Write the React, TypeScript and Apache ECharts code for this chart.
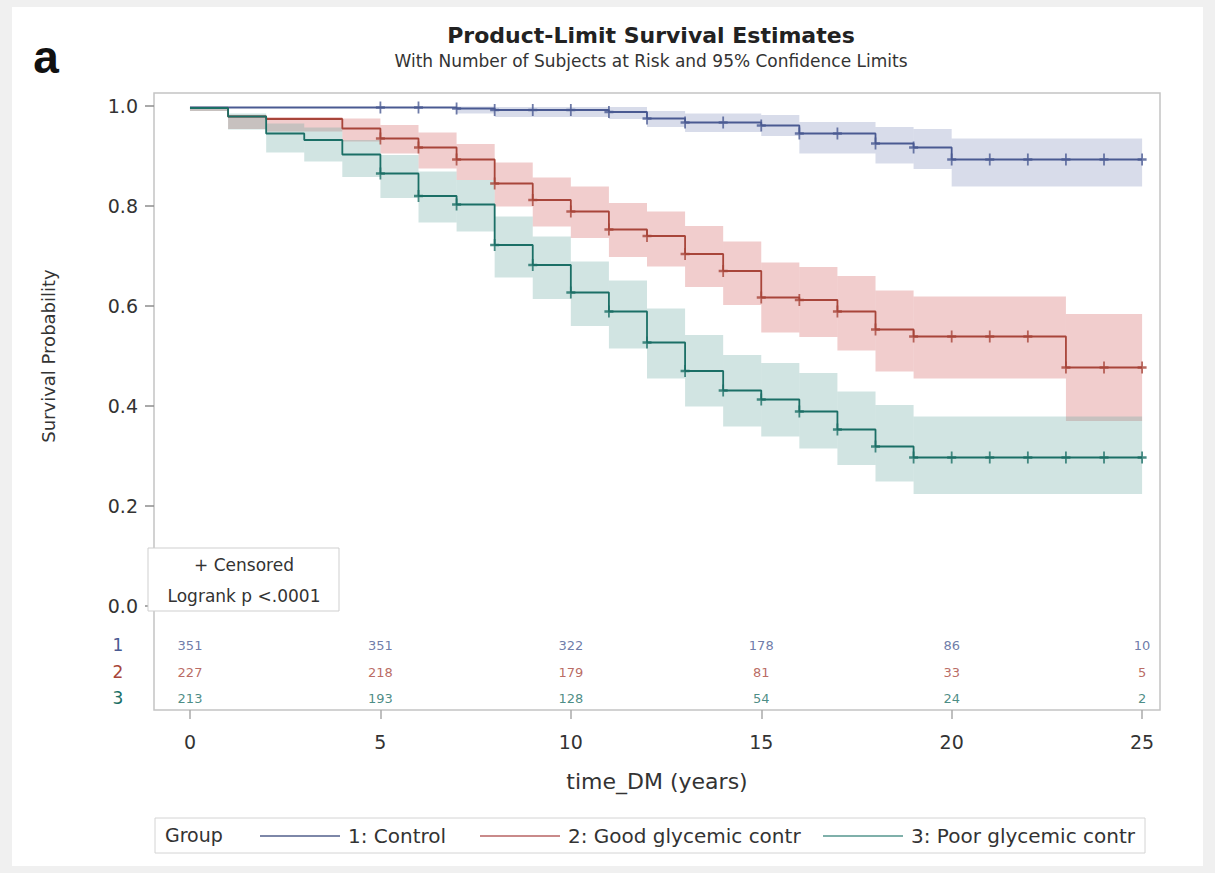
import React, { useEffect, useRef } from "react";
import * as echarts from "echarts";

const FONT = "DejaVu Sans";

const groupNames = ["1: Control", "2: Good glycemic contr", "3: Poor glycemic contr"];
const lineColors = ["#4a5a92", "#a8453a", "#1b6f66"];
const legendColors = ["#7d87a8", "#c98a8a", "#7fb0aa"];
const bandColors = ["rgba(111,126,179,0.27)", "rgba(208,91,91,0.30)", "rgba(102,165,160,0.30)"];

// Group 1: Control
const controlTimes = [0, 7, 8, 11, 12, 13, 15, 16, 18, 19, 20];
const controlSurv = [0.997, 0.995, 0.992, 0.988, 0.975, 0.967, 0.961, 0.945, 0.925, 0.917, 0.893];
const controlLower = [0.997, 0.985, 0.978, 0.974, 0.958, 0.948, 0.94, 0.905, 0.885, 0.874, 0.839];
const controlUpper = [0.997, 0.999, 0.998, 0.998, 0.99, 0.985, 0.982, 0.968, 0.958, 0.954, 0.935];

// Group 2: Good glycemic control
const goodTimes = [0, 1, 2, 4, 5, 6, 7, 8, 9, 10, 11, 12, 13, 14, 15, 16, 17, 18, 19, 23];
const goodSurv = [0.996, 0.979, 0.974, 0.955, 0.935, 0.917, 0.893, 0.845, 0.812, 0.789, 0.753, 0.74, 0.704, 0.67, 0.617, 0.612, 0.589, 0.553, 0.539, 0.477];
const goodLower = [0.99, 0.954, 0.949, 0.929, 0.905, 0.875, 0.852, 0.799, 0.759, 0.736, 0.698, 0.679, 0.638, 0.602, 0.547, 0.538, 0.511, 0.469, 0.455, 0.37];
const goodUpper = [0.999, 0.982, 0.978, 0.975, 0.962, 0.947, 0.924, 0.887, 0.857, 0.839, 0.806, 0.789, 0.76, 0.729, 0.687, 0.678, 0.66, 0.631, 0.619, 0.584];

// Group 3: Poor glycemic control
const poorTimes = [0, 1, 2, 3, 4, 5, 6, 7, 8, 9, 10, 11, 12, 13, 14, 15, 16, 17, 18, 19];
const poorSurv = [0.996, 0.979, 0.945, 0.932, 0.903, 0.865, 0.82, 0.803, 0.722, 0.682, 0.627, 0.589, 0.527, 0.47, 0.431, 0.413, 0.389, 0.353, 0.319, 0.297];
const poorLower = [0.99, 0.953, 0.907, 0.889, 0.858, 0.816, 0.767, 0.749, 0.657, 0.614, 0.56, 0.515, 0.455, 0.399, 0.359, 0.339, 0.315, 0.282, 0.249, 0.224];
const poorUpper = [0.999, 0.985, 0.965, 0.957, 0.932, 0.902, 0.869, 0.852, 0.779, 0.739, 0.689, 0.651, 0.595, 0.542, 0.502, 0.486, 0.466, 0.429, 0.402, 0.379];

const censorTimes = [5, 6, 7, 8, 9, 10, 11, 12, 13, 14, 15, 16, 17, 18, 19, 20, 21, 22, 23, 24, 25];
const endTime = 25;

// Number at risk
const riskTimes = [0, 5, 10, 15, 20, 25];
const riskControl = [351, 351, 322, 178, 86, 10];
const riskGood = [227, 218, 179, 81, 33, 5];
const riskPoor = [213, 193, 128, 54, 24, 2];
const riskRowY = [-0.078, -0.132, -0.184];

const xTicks = [0, 5, 10, 15, 20, 25];
const yTicks = [0, 0.2, 0.4, 0.6, 0.8, 1.0];
const xMin = -0.945;
const xMax = 25.47;

const groups = [
  { times: controlTimes, surv: controlSurv, lower: controlLower, upper: controlUpper, risk: riskControl },
  { times: goodTimes, surv: goodSurv, lower: goodLower, upper: goodUpper, risk: riskGood },
  { times: poorTimes, surv: poorSurv, lower: poorLower, upper: poorUpper, risk: riskPoor },
];

function stepAt(times: number[], vals: number[], t: number) {
  let v = vals[0];
  for (let i = 0; i < times.length; i++) if (times[i] <= t) v = vals[i];
  return v;
}

export default function App() {
  const ref = useRef<HTMLDivElement>(null);
  useEffect(() => {
    if (!ref.current) return;
    const chart = echarts.init(ref.current, null, { renderer: "svg" });
    const series: any[] = [];
    groups.forEach((g, gi) => {
      const bandData = g.times.map((t, i) => [t, i < g.times.length - 1 ? g.times[i + 1] : endTime, g.lower[i], g.upper[i]]);
      series.push({
        type: "custom",
        name: "band" + gi,
        data: bandData,
        encode: { x: [0, 1], y: [2, 3] },
        z: 1,
        silent: true,
        renderItem: (params: any, api: any) => {
          const a = api.coord([api.value(0), api.value(3)]);
          const b = api.coord([api.value(1), api.value(2)]);
          return {
            type: "rect",
            shape: { x: a[0], y: a[1], width: b[0] - a[0], height: b[1] - a[1] },
            style: { fill: bandColors[gi] },
          };
        },
      });
    });
    groups.forEach((g, gi) => {
      const lineData = g.times.map((t, i) => [t, g.surv[i]]);
      lineData.push([endTime, g.surv[g.surv.length - 1]]);
      series.push({
        type: "line",
        name: groupNames[gi],
        data: lineData,
        step: "end",
        symbol: "none",
        z: 3,
        lineStyle: { color: lineColors[gi], width: 1.8 },
        itemStyle: { color: legendColors[gi] },
      });
    });
    groups.forEach((g, gi) => {
      series.push({
        type: "scatter",
        name: "censor" + gi,
        data: censorTimes.map((t) => [t, stepAt(g.times, g.surv, t)]),
        symbol: "path://M4,0h2v10h-2z M0,4h10v2h-10z",
        symbolSize: [9, 12],
        z: 4,
        itemStyle: { color: lineColors[gi] },
        silent: true,
      });
    });
    groups.forEach((g, gi) => {
      series.push({
        type: "scatter",
        name: "risk" + gi,
        data: riskTimes.map((t, i) => [t, riskRowY[gi], g.risk[i]]),
        symbolSize: 1,
        itemStyle: { color: "rgba(0,0,0,0)" },
        silent: true,
        label: {
          show: true,
          position: "inside",
          formatter: (p: any) => String(p.value[2]),
          color: lineColors[gi],
          fontSize: 13,
          fontFamily: FONT,
        },
      });
    });
    // y-axis tick marks, drawn outside the frame through the axis scale
    series.push({
      type: "custom",
      name: "yticks",
      data: yTicks.map((v) => [xMin, v]),
      encode: { x: 0, y: 1 },
      clip: false,
      silent: true,
      z: 6,
      renderItem: (params: any, api: any) => {
        const p = api.coord([api.value(0), api.value(1)]);
        return {
          type: "line",
          shape: { x1: p[0] - 9, y1: p[1], x2: p[0], y2: p[1] },
          style: { stroke: "#8c8c8c", lineWidth: 1.5 },
        };
      },
    });

    const legendLefts = [255, 475, 818];
    const legends = groupNames.map((n, i) => ({
      data: [{ name: n, icon: "rect" }],
      left: legendLefts[i],
      top: 821,
      itemWidth: 80,
      itemHeight: 2,
      selectedMode: false,
      textStyle: { fontSize: 20, color: "#333", fontFamily: FONT, padding: [0, 0, 0, 3] },
    }));

    const option: any = {
      animation: false,
      backgroundColor: "#f0f0f0",
      textStyle: { fontFamily: FONT },
      grid: {
        left: 154,
        top: 93,
        width: 1006,
        height: 617,
        show: true,
        backgroundColor: "#ffffff",
        borderColor: "#c4c4c4",
        borderWidth: 1.5,
      },
      xAxis: {
        type: "value",
        min: xMin,
        max: xMax,
        axisLine: { show: false, onZero: false },
        splitLine: { show: false },
        axisTick: { show: true, length: 9, customValues: xTicks, lineStyle: { color: "#aaaaaa", width: 1.5 } },
        axisLabel: { customValues: xTicks, fontSize: 19, color: "#333", margin: 22, fontFamily: FONT },
        name: "time_DM (years)",
        nameLocation: "middle",
        nameGap: 60,
        nameTextStyle: { fontSize: 22, color: "#333", fontFamily: FONT },
      },
      yAxis: {
        type: "value",
        min: -0.208,
        max: 1.026,
        axisLine: { show: false, onZero: false },
        splitLine: { show: false },
        axisTick: { show: false },
        axisLabel: {
          customValues: yTicks,
          fontSize: 19,
          color: "#333",
          margin: 16,
          fontFamily: FONT,
          formatter: (v: number) => v.toFixed(1),
        },
      },
      legend: legends,
      graphic: [
        { type: "rect", z: -10, shape: { x: 12, y: 7, width: 1191, height: 859 }, style: { fill: "#ffffff" } },
        { type: "text", x: 46, y: 80, style: { text: "a", fontSize: 46, fontWeight: "bold", fontFamily: "Liberation Sans", fill: "#111", align: "center", verticalAlign: "bottom" } },
        { type: "text", x: 651, y: 35, style: { text: "Product-Limit Survival Estimates", fontSize: 22, fontWeight: "bold", fontFamily: FONT, fill: "#222", align: "center", verticalAlign: "middle" } },
        { type: "text", x: 651, y: 61, style: { text: "With Number of Subjects at Risk and 95% Confidence Limits", fontSize: 17, fontFamily: FONT, fill: "#333", align: "center", verticalAlign: "middle" } },
        { type: "text", x: 48, y: 356, rotation: Math.PI / 2, style: { text: "Survival Probability", fontSize: 18, fontFamily: FONT, fill: "#333", align: "center", verticalAlign: "middle" } },
        { type: "rect", z: 10, shape: { x: 148, y: 548, width: 191, height: 63 }, style: { fill: "#ffffff", stroke: "#cfcfcf", lineWidth: 1 } },
        { type: "text", z: 11, x: 244, y: 565, style: { text: "+ Censored", fontSize: 17, fontFamily: FONT, fill: "#333", align: "center", verticalAlign: "middle" } },
        { type: "text", z: 11, x: 244, y: 596, style: { text: "Logrank p <.0001", fontSize: 17, fontFamily: FONT, fill: "#333", align: "center", verticalAlign: "middle" } },
        { type: "text", x: 118, y: 645, style: { text: "1", fontSize: 17, fontFamily: FONT, fill: lineColors[0], align: "center", verticalAlign: "middle" } },
        { type: "text", x: 118, y: 672, style: { text: "2", fontSize: 17, fontFamily: FONT, fill: lineColors[1], align: "center", verticalAlign: "middle" } },
        { type: "text", x: 118, y: 698, style: { text: "3", fontSize: 17, fontFamily: FONT, fill: lineColors[2], align: "center", verticalAlign: "middle" } },
        { type: "rect", z: -1, shape: { x: 155, y: 818, width: 990, height: 35 }, style: { fill: "#ffffff", stroke: "#d4d4d4", lineWidth: 1 } },
        { type: "text", x: 165, y: 835, style: { text: "Group", fontSize: 19, fontFamily: FONT, fill: "#333", align: "left", verticalAlign: "middle" } },
      ],
      series,
    };
    chart.setOption(option);
    return () => chart.dispose();
  }, []);
  return <div ref={ref} style={{ position: "fixed", left: 0, top: 0, width: 1215, height: 873 }} />;
}
